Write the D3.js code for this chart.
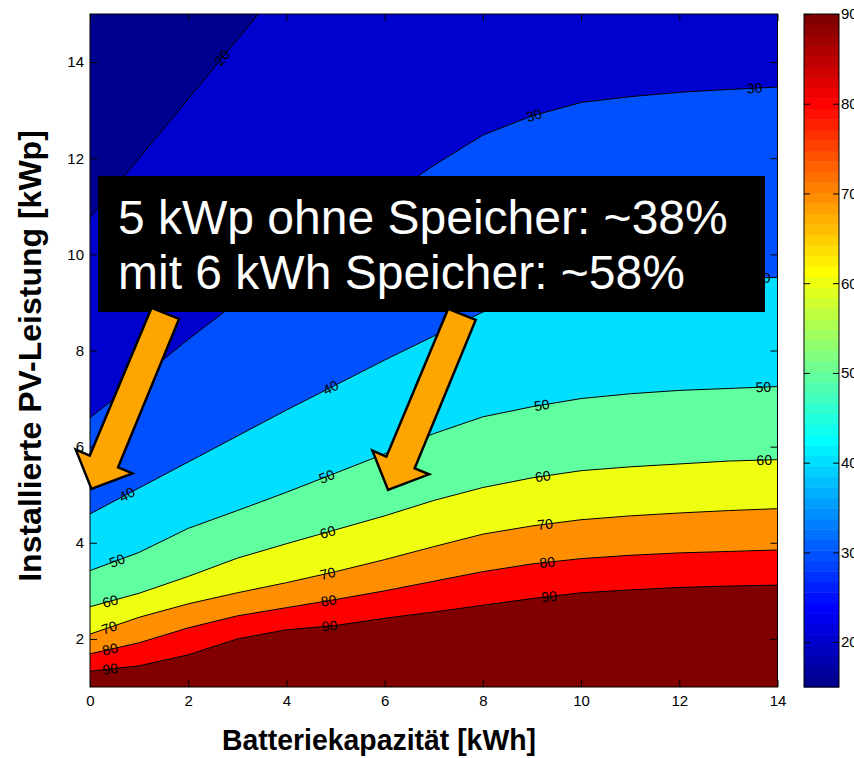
<!DOCTYPE html>
<html>
<head>
<meta charset="utf-8">
<script src="https://cdn.jsdelivr.net/npm/d3@7"></script>
<style>
    body { margin: 0; background: #fff; }
    svg { display: block; }
    text { font-family: "Liberation Sans", Arial, Helvetica, sans-serif; }
</style>
</head>
<body>
<svg id="chart" width="854" height="758"></svg>
<script>
    'use strict';

    // Data: contour lines of self-consumption share [%]
    // x = battery capacity [kWh], y = installed PV power [kWp]
    var levels = [20, 30, 40, 50, 60, 70, 80, 90];
    var kwh = [0, 1, 2, 3, 4, 5, 6, 7, 8, 9, 10, 11, 12, 13, 14];
    var kwh20 = [0, 1, 2, 3, 3.43];
    var pv20 = [10.77, 12.0, 13.23, 14.47, 15.0];
    var pv30 = [6.6, 7.4, 8.23, 9.01, 9.73, 10.44, 11.15, 11.85, 12.48, 12.88, 13.16, 13.28, 13.37, 13.43, 13.48];
    var pv40 = [4.6, 5.14, 5.68, 6.22, 6.76, 7.28, 7.8, 8.3, 8.8, 9.12, 9.3, 9.4, 9.46, 9.5, 9.52];
    var pv50 = [3.42, 3.8, 4.3, 4.67, 5.05, 5.45, 5.85, 6.27, 6.62, 6.83, 7.0, 7.1, 7.17, 7.21, 7.25];
    var pv60 = [2.67, 2.95, 3.3, 3.68, 3.98, 4.27, 4.56, 4.88, 5.15, 5.35, 5.5, 5.58, 5.64, 5.7, 5.73];
    var pv70 = [2.1, 2.45, 2.73, 2.96, 3.17, 3.4, 3.65, 3.92, 4.18, 4.35, 4.48, 4.56, 4.62, 4.67, 4.71];
    var pv80 = [1.69, 1.92, 2.23, 2.48, 2.65, 2.82, 3.0, 3.2, 3.4, 3.56, 3.67, 3.74, 3.79, 3.82, 3.85];
    var pv90 = [1.33, 1.44, 1.67, 2.0, 2.19, 2.28, 2.43, 2.56, 2.7, 2.84, 2.96, 3.02, 3.07, 3.1, 3.12];

    // x positions of the inline contour labels
    var labelsAt = {
        20: [2.69],
        30: [9.04, 13.53],
        40: [0.75, 4.9, 13.7],
        50: [0.55, 4.82, 9.2, 13.71],
        60: [0.41, 4.84, 9.22, 13.73],
        70: [0.39, 4.84, 9.27],
        80: [0.41, 4.86, 9.31],
        90: [0.41, 4.88, 9.35]
    };

    var xTicks = [0, 2, 4, 6, 8, 10, 12, 14];
    var yTicks = [2, 4, 6, 8, 10, 12, 14];
    var cbTicks = [20, 30, 40, 50, 60, 70, 80, 90];
    var cRange = [15, 90];

    var xTitle = "Batteriekapazität [kWh]";
    var yTitle = "Installierte PV-Leistung [kWp]";
    var callout = ["5 kWp ohne Speicher: ~38%", "mit 6 kWh Speicher: ~58%"];
    var arrowTips = [[0.03, 5.12], [6.07, 5.1]];

    // MATLAB jet(n)
    function jet(n) {
        var m = Math.ceil(n / 4);
        var u = [];
        var i;
        for (i = 1; i <= m; i++) u.push(i / m);
        for (i = 0; i < m - 1; i++) u.push(1);
        for (i = m; i >= 1; i--) u.push(i / m);
        var g0 = Math.ceil(m / 2) - (n % 4 === 1 ? 1 : 0);
        var J = d3.range(n).map(function() { return [0, 0, 0]; });
        u.forEach(function(v, k) {
            var g = g0 + k + 1, r = g + m, b = g - m;
            if (r >= 1 && r <= n) J[r - 1][0] = v;
            if (g >= 1 && g <= n) J[g - 1][1] = v;
            if (b >= 1 && b <= n) J[b - 1][2] = v;
        });
        return J.map(function(c) { return d3.rgb(c[0] * 255, c[1] * 255, c[2] * 255).toString(); });
    }

    var jetColors = jet(64);
    var color = d3.scaleQuantize().domain(cRange).range(jetColors);

    var pvByLevel = { 30: pv30, 40: pv40, 50: pv50, 60: pv60, 70: pv70, 80: pv80, 90: pv90 };
    var contours = levels.map(function(l) {
        var pts = l === 20 ? kwh20.map(function(v, i) { return [v, pv20[i]]; })
                           : kwh.map(function(v, i) { return [v, pvByLevel[l][i]]; });
        return { level: l, points: pts, labels: labelsAt[l] };
    });

    // Scales
    var x = d3.scaleLinear().domain([0, 14]).range([90, 777.5]);
    var y = d3.scaleLinear().domain([1, 15]).range([687, 14]);
    var cy = d3.scaleLinear().domain(cRange).range([687, 14]);

    var svg = d3.select("#chart");
    var line = d3.line().x(function(d) { return x(d[0]); }).y(function(d) { return y(d[1]); });

    svg.append("defs").append("clipPath").attr("id", "plot-clip")
        .append("rect")
        .attr("x", x(0)).attr("y", y(15))
        .attr("width", x(14) - x(0)).attr("height", y(1) - y(15));

    var plot = svg.append("g").attr("clip-path", "url(#plot-clip)");

    // region below lowest level
    plot.append("rect")
        .attr("x", x(0)).attr("y", y(15))
        .attr("width", x(14) - x(0)).attr("height", y(1) - y(15))
        .attr("fill", color(cRange[0]));

    function bandPolygon(pts) {
        var poly = pts.slice();
        var last = pts[pts.length - 1];
        if (last[0] < 14) poly.push([14, 15]);
        poly.push([14, 1], [0, 1]);
        return poly;
    }

    plot.selectAll(".band").data(contours).enter().append("path")
        .attr("class", "band")
        .attr("d", function(d) { return line(bandPolygon(d.points)) + "Z"; })
        .attr("fill", function(d) { return color(d.level); });

    plot.selectAll(".cline").data(contours).enter().append("path")
        .attr("class", "cline")
        .attr("d", function(d) { return line(d.points); })
        .attr("fill", "none")
        .attr("stroke", "#000")
        .attr("stroke-width", 1);

    // contour labels, rotated along the line
    function pointAt(pts, xv) {
        for (var i = 0; i < pts.length - 1; i++) {
            if (xv >= pts[i][0] && xv <= pts[i + 1][0]) {
                var a = pts[i], b = pts[i + 1];
                var t = (xv - a[0]) / (b[0] - a[0]);
                var px = x(xv), py = y(a[1] + t * (b[1] - a[1]));
                var ang = Math.atan2(y(b[1]) - y(a[1]), x(b[0]) - x(a[0])) * 180 / Math.PI;
                return [px, py, ang];
            }
        }
        return null;
    }

    var labelData = [];
    contours.forEach(function(c) {
        c.labels.forEach(function(lx) {
            var p = pointAt(c.points, lx);
            if (p) labelData.push({ text: c.level, p: p });
        });
    });

    plot.selectAll(".clabel").data(labelData).enter().append("text")
        .attr("class", "clabel")
        .attr("transform", function(d) { return "translate(" + d.p[0] + "," + d.p[1] + ") rotate(" + d.p[2] + ")"; })
        .attr("text-anchor", "middle")
        .attr("dy", "0.35em")
        .attr("font-size", 14)
        .attr("fill", "#000")
        .text(function(d) { return d.text; });

    // Axes (ticks pointing inward, box on)
    function styleAxis(g) {
        g.select(".domain").remove();
        g.selectAll("line").attr("stroke", "#000");
        g.selectAll("text").attr("fill", "#000").attr("font-size", 15);
    }

    svg.append("g").attr("transform", "translate(0," + y(1) + ")")
        .call(d3.axisBottom(x).tickValues(xTicks).tickSizeInner(-7).tickSizeOuter(0).tickPadding(8))
        .call(styleAxis);
    svg.append("g").attr("transform", "translate(0," + y(15) + ")")
        .call(d3.axisTop(x).tickValues(xTicks).tickSizeInner(-7).tickSizeOuter(0).tickFormat(""))
        .call(styleAxis);
    svg.append("g").attr("transform", "translate(" + x(0) + ",0)")
        .call(d3.axisLeft(y).tickValues(yTicks).tickSizeInner(-7).tickSizeOuter(0).tickPadding(6))
        .call(styleAxis);
    svg.append("g").attr("transform", "translate(" + x(14) + ",0)")
        .call(d3.axisRight(y).tickValues(yTicks).tickSizeInner(-7).tickSizeOuter(0).tickFormat(""))
        .call(styleAxis);

    svg.append("rect")
        .attr("x", x(0)).attr("y", y(15))
        .attr("width", x(14) - x(0)).attr("height", y(1) - y(15))
        .attr("fill", "none").attr("stroke", "#000").attr("stroke-width", 1);

    // Colorbar
    var cbX0 = 804, cbX1 = 839;
    var cb = svg.append("g");
    cb.selectAll("rect.cb").data(jetColors).enter().append("rect")
        .attr("class", "cb")
        .attr("x", cbX0)
        .attr("width", cbX1 - cbX0)
        .attr("y", function(c) { return cy(color.invertExtent(c)[1]); })
        .attr("height", function(c) { var e = color.invertExtent(c); return cy(e[0]) - cy(e[1]) + 0.5; })
        .attr("fill", function(c) { return c; });
    cb.append("g").attr("transform", "translate(" + cbX0 + ",0)")
        .call(d3.axisLeft(cy).tickValues(cbTicks).tickSizeInner(-6).tickSizeOuter(0).tickFormat(""))
        .call(styleAxis);
    cb.append("g").attr("transform", "translate(" + cbX1 + ",0)")
        .call(d3.axisRight(cy).tickValues(cbTicks).tickSizeInner(-6).tickSizeOuter(0).tickPadding(2))
        .call(styleAxis);
    cb.append("rect")
        .attr("x", cbX0).attr("y", cy(cRange[1]))
        .attr("width", cbX1 - cbX0).attr("height", cy(cRange[0]) - cy(cRange[1]))
        .attr("fill", "none").attr("stroke", "#000").attr("stroke-width", 1);

    // Axis titles
    svg.append("text")
        .attr("x", 379).attr("y", 750)
        .attr("text-anchor", "middle")
        .attr("font-size", 30).attr("font-weight", "bold")
        .attr("textLength", 314).attr("lengthAdjust", "spacingAndGlyphs")
        .text(xTitle);
    svg.append("text")
        .attr("transform", "translate(41,356) rotate(-90)")
        .attr("text-anchor", "middle")
        .attr("font-size", 32).attr("font-weight", "bold")
        .text(yTitle);

    // Callout box
    svg.append("rect")
        .attr("x", 98).attr("y", 176).attr("width", 667).attr("height", 136)
        .attr("fill", "#000");
    svg.selectAll(".callout").data(callout).enter().append("text")
        .attr("class", "callout")
        .attr("x", 118)
        .attr("y", function(d, i) { return 234 + i * 55; })
        .attr("font-size", 48)
        .attr("fill", "#fff")
        .text(function(d) { return d; });

    // Arrows (shape in px relative to the tip)
    var arrowShape = [[0, 0], [41, -15.6], [26.6, -21.6], [87.6, -170], [60, -181], [-1.7, -33.3], [-15.7, -39.3]];
    svg.selectAll(".arrow").data(arrowTips).enter().append("path")
        .attr("class", "arrow")
        .attr("d", function(t) {
            var tx = x(t[0]), ty = y(t[1]);
            return "M" + arrowShape.map(function(p) { return (tx + p[0]) + "," + (ty + p[1]); }).join("L") + "Z";
        })
        .attr("fill", "#ffa500")
        .attr("stroke", "#000")
        .attr("stroke-width", 2.5)
        .attr("stroke-linejoin", "miter");
</script>
</body>
</html>
